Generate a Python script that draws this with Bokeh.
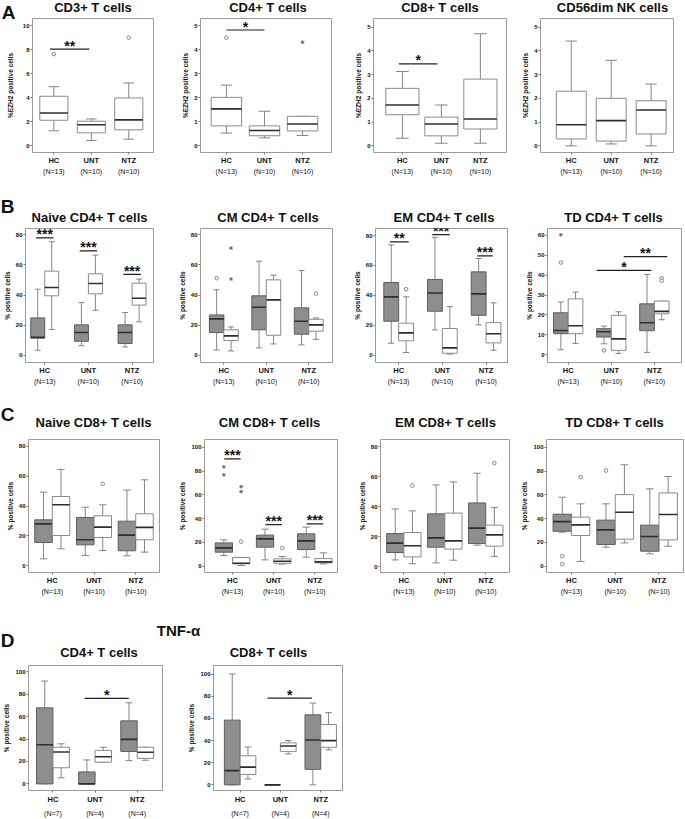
from bokeh.plotting import figure
from bokeh.models import LinearAxis, FixedTicker, Range1d
from bokeh.layouts import row, column
from bokeh.embed import file_html
from bokeh.resources import INLINE
from bokeh.core.properties import value

# ---------------- data ----------------
GROUPS = ["HC", "UNT", "NTZ"]
N_ABC = ["(N=13)", "(N=10)", "(N=10)"]
N_D = ["(N=7)", "(N=4)", "(N=4)"]
PANEL_LETTERS = ["A", "B", "C", "D"]
SECTION_D_TITLE = "TNF-\u03b1"
TITLES_A = ["CD3+ T cells", "CD4+ T cells", "CD8+ T cells", "CD56dim NK cells"]
TITLES_B = ["Naive CD4+ T cells", "CM CD4+ T cells", "EM CD4+ T cells", "TD CD4+ T cells"]
TITLES_C = ["Naive CD8+ T cells", "CM CD8+ T cells", "EM CD8+ T cells", "TD CD8+ T cells"]
TITLES_D = ["CD4+ T cells", "CD8+ T cells"]
# each box: (lower whisker, Q1, median, Q3, upper whisker) for HC, UNT, NTZ

# A: %EZH2 positive cells
EZH2_CD3 = [(1.25, 2.13, 2.74, 4.13, 4.93), (0.44, 1.08, 1.75, 2.05, 2.24), (0.55, 1.33, 2.16, 3.99, 5.24)]
EZH2_CD3_OUT = [("HC", "box", 7.65, "o"), ("NTZ", "box", 9.03, "o")]
EZH2_CD3_SIG = [(0.9, 1.95, 8.06, "**")]
EZH2_CD4 = [(0.53, 0.83, 1.54, 2.02, 2.53), (0.33, 0.42, 0.64, 0.83, 1.44), (0.43, 0.62, 0.91, 1.23, 1.23)]
EZH2_CD4_OUT = [("HC", "box", 4.51, "o"), ("NTZ", "box", 4.32, "*")]
EZH2_CD4_SIG = [(1.0, 2.0, 4.83, "*")]
EZH2_CD8 = [(0.32, 1.31, 1.72, 2.42, 3.13), (0.11, 0.42, 0.92, 1.21, 1.72), (0.11, 0.71, 1.13, 2.81, 4.72)]
EZH2_CD8_OUT = []
EZH2_CD8_SIG = [(0.91, 1.9, 3.45, "*")]
EZH2_NK = [(0.0, 0.29, 0.89, 2.30, 4.41), (0.08, 0.20, 1.06, 2.00, 3.60), (0.0, 0.50, 1.51, 1.90, 2.60)]
EZH2_NK_OUT = []
EZH2_NK_SIG = []

# B: CD4+ subsets (grey / white boxes)
NAIVE_CD4_G = [(3.3, 11.3, 12.0, 24.8, 43.9), (6.4, 9.3, 15.1, 20.2, 35.0), (5.5, 7.8, 15.1, 20.2, 28.4)]
NAIVE_CD4_W = [(17.1, 39.5, 45.0, 55.9, 75.4), (29.9, 40.8, 47.7, 54.1, 66.5), (22.2, 33.3, 37.9, 47.9, 50.6)]
NAIVE_CD4_OUT = []
NAIVE_CD4_SIG = [(0.8, 1.2, 78.0, "***"), (1.8, 2.2, 69.4, "***"), (2.8, 3.2, 53.7, "***")]
CM_CD4_G = [(3.5, 15.1, 24.2, 26.8, 43.5), (4.9, 16.9, 31.9, 39.5, 62.5), (6.9, 14.0, 22.6, 31.5, 56.3)]
CM_CD4_W = [(2.9, 9.8, 12.9, 16.9, 18.8), (7.5, 13.3, 36.8, 50.1, 53.2), (10.6, 16.0, 20.2, 23.9, 24.8)]
CM_CD4_OUT = [("HC", "grey", 51.2, "o"), ("HC", "white", 71.2, "*"), ("HC", "white", 50.6, "*"), ("NTZ", "white", 41.0, "o")]
CM_CD4_SIG = []
EM_CD4_G = [(8.0, 22.7, 39.0, 48.6, 73.7), (16.9, 29.4, 41.6, 50.6, 78.8), (20.3, 26.7, 41.0, 55.7, 64.6)]
EM_CD4_W = [(1.8, 9.6, 14.9, 21.4, 39.0), (0.7, 1.3, 4.9, 17.8, 32.5), (3.3, 8.2, 14.3, 21.8, 35.0)]
EM_CD4_OUT = [("HC", "white", 44.1, "o")]
EM_CD4_SIG = [(0.8, 1.23, 75.7, "**"), (1.77, 2.17, 80.6, "***"), (2.8, 3.15, 66.4, "***")]
TD_CD4_G = [(2.5, 10.6, 12.2, 21.1, 26.5), (5.5, 8.9, 11.6, 13.1, 14.4), (1.2, 12.1, 16.1, 25.6, 40.4)]
TD_CD4_W = [(5.7, 10.6, 14.6, 28.1, 31.5), (0.7, 2.2, 8.0, 19.8, 21.6), (17.6, 20.6, 21.8, 27.0, 27.0)]
TD_CD4_OUT = [("HC", "grey", 60.3, "*"), ("HC", "grey", 46.4, "o"), ("UNT", "grey", 2.2, "o"),
              ("NTZ", "white", 38.5, "o"), ("NTZ", "white", 37.2, "o")]
TD_CD4_SIG = [(1.66, 2.93, 42.4, "*"), (2.29, 3.3, 49.4, "**")]

# C: CD8+ subsets
NAIVE_CD8_G = [(4.5, 15.5, 28.0, 30.7, 49.3), (6.7, 13.9, 17.3, 32.3, 39.2), (6.5, 9.9, 20.4, 29.8, 50.7)]
NAIVE_CD8_W = [(11.2, 20.2, 40.8, 46.4, 64.6), (10.1, 18.8, 25.8, 33.4, 40.8), (9.0, 17.3, 25.6, 34.8, 57.6)]
NAIVE_CD8_OUT = [("UNT", "white", 54.9, "o")]
NAIVE_CD8_SIG = []
CM_CD8_G = [(9.0, 11.8, 15.4, 19.6, 22.1), (5.3, 16.0, 23.0, 26.1, 31.1), (7.6, 14.0, 21.3, 27.2, 32.8)]
CM_CD8_W = [(0.6, 2.0, 2.5, 7.3, 7.3), (1.7, 2.5, 4.2, 6.2, 8.1), (2.0, 2.8, 3.6, 6.4, 11.2)]
CM_CD8_OUT = [("HC", "grey", 83.5, "*"), ("HC", "grey", 76.8, "*"), ("HC", "white", 66.9, "*"),
              ("HC", "white", 62.7, "*"), ("HC", "white", 20.7, "o"), ("UNT", "white", 15.4, "o")]
CM_CD8_SIG = [(0.8, 1.2, 90.2, "***"), (1.8, 2.2, 35.0, "***"), (2.8, 3.2, 35.6, "***")]
EM_CD8_G = [(4.4, 9.3, 15.6, 22.0, 38.4), (2.4, 12.9, 19.1, 35.1, 54.4), (14.2, 15.3, 25.6, 42.4, 62.2)]
EM_CD8_W = [(1.8, 6.4, 13.8, 22.7, 37.1), (4.2, 11.6, 17.1, 35.6, 56.4), (6.7, 13.6, 21.1, 27.6, 39.3)]
EM_CD8_OUT = [("HC", "white", 54.0, "o"), ("NTZ", "white", 68.9, "o")]
EM_CD8_SIG = []
TD_CD8_G = [(28.6, 29.4, 37.5, 43.7, 58.0), (16.0, 18.2, 30.5, 38.7, 52.4), (10.4, 12.6, 24.9, 34.5, 65.0)]
TD_CD8_W = [(3.9, 25.8, 34.7, 41.2, 52.4), (19.6, 22.7, 45.4, 60.2, 85.2), (16.8, 22.1, 43.4, 61.6, 75.4)]
TD_CD8_OUT = [("HC", "grey", 8.4, "o"), ("HC", "grey", 1.7, "o"), ("HC", "white", 74.8, "o"), ("UNT", "grey", 80.4, "o")]
TD_CD8_SIG = []

# D: TNF-alpha
TNF_CD4_G = [(0.0, 0.0, 34.9, 67.9, 91.8), (0.0, 0.0, 0.0, 10.7, 21.4), (20.8, 29.0, 39.7, 56.3, 72.4)]
TNF_CD4_W = [(5.4, 14.4, 28.5, 32.7, 35.8), (19.2, 19.4, 24.2, 29.9, 32.7), (21.1, 22.8, 28.2, 32.7, 32.7)]
TNF_CD4_SIG = [(1.75, 2.8, 76.3, "*")]
TNF_CD8_G = [(0.0, 0.0, 12.8, 58.4, 100.0), (0.0, 0.0, 0.0, 0.0, 0.0), (0.0, 14.0, 40.5, 63.2, 73.8)]
TNF_CD8_W = [(5.4, 9.4, 16.0, 26.2, 34.2), (27.9, 30.2, 35.0, 37.9, 39.9), (31.6, 33.9, 39.9, 54.4, 65.2)]
TNF_CD8_SIG = [(1.68, 2.78, 78.3, "*")]

Y_EZH2_10 = [0, 2, 4, 6, 8, 10]
Y_EZH2_5 = [0, 1, 2, 3, 4, 5]
Y_80 = [0, 20, 40, 60, 80]
Y_60 = [0, 10, 20, 30, 40, 50, 60]
Y_100 = [0, 20, 40, 60, 80, 100]

# ---------------- style ----------------
FONT = "Liberation Sans"
TXT = "#111111"
FRAME = "#9a9a9a"
GREY = "#8e8e8e"
EDGE_G = "#5e5e5e"
EDGE_W = "#8a8a8a"
WHISK = "#858585"
MED = "#2e2e2e"
PAGE_W, PAGE_H = 685, 819


def draw_boxes(p, stats, offset, bw, cw, fill, edge):
    xs = [i + 1 + offset for i in range(len(stats))]
    lo = [s[0] for s in stats]
    q1 = [s[1] for s in stats]
    md = [s[2] for s in stats]
    q3 = [s[3] for s in stats]
    hi = [s[4] for s in stats]
    p.segment(x0=xs, y0=lo, x1=xs, y1=q1, line_color=WHISK, line_width=1)
    p.segment(x0=xs, y0=q3, x1=xs, y1=hi, line_color=WHISK, line_width=1)
    p.segment(x0=[x - cw / 2 for x in xs], y0=lo, x1=[x + cw / 2 for x in xs], y1=lo, line_color=WHISK, line_width=1)
    p.segment(x0=[x - cw / 2 for x in xs], y0=hi, x1=[x + cw / 2 for x in xs], y1=hi, line_color=WHISK, line_width=1)
    p.vbar(x=xs, width=bw, bottom=q1, top=q3, fill_color=fill, line_color=edge, line_width=1)
    p.segment(x0=[x - bw / 2 for x in xs], y0=md, x1=[x + bw / 2 for x in xs], y1=md, line_color=MED, line_width=1.6)


def panel(series, outliers, sigs, nlab, ylabel, yticks, g):
    p = figure(width=g["w"], height=g["h"], x_range=Range1d(*g["xr"]), y_range=Range1d(*g["yr"]),
               x_axis_type=None, y_axis_type=None, toolbar_location=None, output_backend="svg",
               min_border_left=g["bl"], min_border_right=g["br"], min_border_top=g["bt"],
               min_border_bottom=g["bb"], border_fill_color=None, background_fill_color="white",
               outline_line_color=FRAME, outline_line_width=1)

    ya = LinearAxis(ticker=FixedTicker(ticks=yticks), axis_label=ylabel)
    ya.axis_line_color = None
    ya.major_tick_line_color = "#777777"
    ya.major_tick_out = 2
    ya.major_tick_in = 0
    ya.minor_tick_line_color = None
    ya.major_label_standoff = 1
    ya.major_label_text_font = FONT
    ya.major_label_text_font_size = "6px"
    ya.major_label_text_font_style = "bold"
    ya.major_label_text_color = TXT
    ya.axis_label_text_font = FONT
    ya.axis_label_text_font_size = "6.5px"
    ya.axis_label_text_font_style = "bold"
    ya.axis_label_text_color = TXT
    ya.axis_label_standoff = g.get("ls", 2)
    p.add_layout(ya, "left")

    xa = LinearAxis(ticker=FixedTicker(ticks=[1, 2, 3]),
                    major_label_overrides={i + 1: GROUPS[i] for i in range(3)})
    xa.axis_line_color = None
    xa.major_tick_line_color = "#777777"
    xa.major_tick_out = 2
    xa.major_tick_in = 0
    xa.major_label_standoff = g.get("hs", 1)
    xa.major_label_text_font = FONT
    xa.major_label_text_font_size = "7.5px"
    xa.major_label_text_font_style = "bold"
    xa.major_label_text_color = TXT
    p.add_layout(xa, "below")

    na = LinearAxis(ticker=FixedTicker(ticks=[1, 2, 3]),
                    major_label_overrides={i + 1: nlab[i] for i in range(3)})
    na.axis_line_color = None
    na.major_tick_line_color = None
    na.major_tick_out = 0
    na.major_tick_in = 0
    na.major_label_standoff = g.get("ns", 0)
    na.major_label_text_font = FONT
    na.major_label_text_font_size = "7px"
    na.major_label_text_color = TXT
    p.add_layout(na, "below")

    bw = g["bw"]
    offsets = {}
    if len(series) == 1:
        draw_boxes(p, series[0], 0.0, bw, bw * 0.38, "white", EDGE_W)
        offsets["box"] = 0.0
    else:
        draw_boxes(p, series[0], -bw / 2, bw, bw * 0.42, GREY, EDGE_G)
        draw_boxes(p, series[1], bw / 2, bw, bw * 0.42, "white", EDGE_W)
        offsets["grey"] = -bw / 2
        offsets["white"] = bw / 2

    circ_x = [GROUPS.index(o[0]) + 1 + offsets[o[1]] for o in outliers if o[3] == "o"]
    circ_y = [o[2] for o in outliers if o[3] == "o"]
    star_x = [GROUPS.index(o[0]) + 1 + offsets[o[1]] for o in outliers if o[3] == "*"]
    star_y = [o[2] for o in outliers if o[3] == "*"]
    if circ_x:
        p.scatter(x=circ_x, y=circ_y, marker="circle", size=3.6, fill_color="white",
                  line_color="#7a7a7a", line_width=0.9)
    if star_x:
        p.scatter(x=star_x, y=star_y, marker="asterisk", size=3.6, line_color="#6a6a6a", line_width=1)

    if sigs:
        fh = g["h"] - g["bt"] - g["bb"]
        dy = (g["yr"][1] - g["yr"][0]) / fh
        p.segment(x0=[s[0] for s in sigs], y0=[s[2] for s in sigs], x1=[s[1] for s in sigs],
                  y1=[s[2] for s in sigs], line_color="#222222", line_width=1.2)
        p.text(x=[(s[0] + s[1]) / 2 for s in sigs], y=[s[2] + 3.5 * dy for s in sigs],
               text=[s[3] for s in sigs], text_align="center", text_baseline="alphabetic",
               text_font=value(FONT), text_font_style="bold", text_font_size="14px", text_color=TXT)
    return p


EZ = "%EZH2 positive cells"
PC = "% positive cells"

# geometry (sizes / borders / ranges) per panel
gA1 = dict(w=175, h=190, bl=32, br=22, bt=18, bb=38, xr=(0.43, 3.66), yr=(-0.56, 10.62), bw=0.75, ls=6)
gA2 = dict(w=175, h=190, bl=25, br=19, bt=18, bb=38, xr=(0.32, 3.76), yr=(-0.28, 5.31), bw=0.8)
gA3 = dict(w=165, h=190, bl=23, br=9, bt=18, bb=38, xr=(0.26, 3.67), yr=(-0.28, 5.36), bw=0.85)
gA4 = dict(w=170, h=190, bl=25, br=12, bt=18, bb=38, xr=(0.23, 3.56), yr=(-0.28, 5.36), bw=0.75)

gB1 = dict(w=175, h=210, bl=21, br=22, bt=38, bb=38, xr=(0.56, 3.49), yr=(-4.8, 84.2), bw=0.32)
gB2 = dict(w=175, h=210, bl=25, br=18, bt=38, bb=38, xr=(0.45, 3.56), yr=(-4.8, 84.2), bw=0.34)
gB3 = dict(w=172, h=210, bl=23, br=15, bt=38, bb=38, xr=(0.47, 3.49), yr=(-4.9, 84.7), bw=0.34)
gB4 = dict(w=163, h=210, bl=23, br=4, bt=38, bb=38, xr=(0.52, 3.63), yr=(-3.9, 63.5), bw=0.34)

gC1 = dict(w=176, h=210, bl=28, br=17, bt=39, bb=38, xr=(0.43, 3.57), yr=(-4.7, 84.7), bw=0.42)
gC2 = dict(w=179, h=210, bl=24, br=18, bt=39, bb=38, xr=(0.32, 3.55), yr=(-5.3, 106.5), bw=0.42)
gC3 = dict(w=163, h=210, bl=23, br=9, bt=39, bb=38, xr=(0.43, 3.58), yr=(-4.0, 84.7), bw=0.42)
gC4 = dict(w=167, h=210, bl=24, br=2, bt=39, bb=38, xr=(0.43, 3.56), yr=(-5.3, 106.5), bw=0.42)

gD1 = dict(w=185, h=209, bl=27, br=23, bt=55, bb=22, xr=(0.42, 3.6), yr=(-5.9, 105.7), bw=0.39, hs=2, ns=3)
gD2 = dict(w=175, h=209, bl=21, br=18, bt=55, bb=22, xr=(0.34, 3.54), yr=(-5.1, 107.7), bw=0.39, hs=2, ns=3)

a1 = panel([EZH2_CD3], EZH2_CD3_OUT, EZH2_CD3_SIG, N_ABC, EZ, Y_EZH2_10, gA1)
a2 = panel([EZH2_CD4], EZH2_CD4_OUT, EZH2_CD4_SIG, N_ABC, EZ, Y_EZH2_5, gA2)
a3 = panel([EZH2_CD8], EZH2_CD8_OUT, EZH2_CD8_SIG, N_ABC, EZ, Y_EZH2_5, gA3)
a4 = panel([EZH2_NK], EZH2_NK_OUT, EZH2_NK_SIG, N_ABC, EZ, Y_EZH2_5, gA4)

b1 = panel([NAIVE_CD4_G, NAIVE_CD4_W], NAIVE_CD4_OUT, NAIVE_CD4_SIG, N_ABC, PC, Y_80, gB1)
b2 = panel([CM_CD4_G, CM_CD4_W], CM_CD4_OUT, CM_CD4_SIG, N_ABC, PC, Y_80, gB2)
b3 = panel([EM_CD4_G, EM_CD4_W], EM_CD4_OUT, EM_CD4_SIG, N_ABC, PC, Y_80, gB3)
b4 = panel([TD_CD4_G, TD_CD4_W], TD_CD4_OUT, TD_CD4_SIG, N_ABC, PC, Y_60, gB4)

c1 = panel([NAIVE_CD8_G, NAIVE_CD8_W], NAIVE_CD8_OUT, NAIVE_CD8_SIG, N_ABC, PC, Y_80, gC1)
c2 = panel([CM_CD8_G, CM_CD8_W], CM_CD8_OUT, CM_CD8_SIG, N_ABC, PC, Y_100, gC2)
c3 = panel([EM_CD8_G, EM_CD8_W], EM_CD8_OUT, EM_CD8_SIG, N_ABC, PC, Y_80, gC3)
c4 = panel([TD_CD8_G, TD_CD8_W], TD_CD8_OUT, TD_CD8_SIG, N_ABC, PC, Y_100, gC4)

d1 = panel([TNF_CD4_G, TNF_CD4_W], [], TNF_CD4_SIG, N_D, PC, Y_100, gD1)
d2 = panel([TNF_CD8_G, TNF_CD8_W], [], TNF_CD8_SIG, N_D, PC, Y_100, gD2)

# full-page layer underneath the panels for headings and panel titles (page pixel coordinates)
overlay = figure(width=PAGE_W, height=PAGE_H, x_range=Range1d(0, PAGE_W), y_range=Range1d(PAGE_H, 0),
                 x_axis_type=None, y_axis_type=None, toolbar_location=None, output_backend="svg",
                 min_border=0, outline_line_color=None, background_fill_color=None,
                 border_fill_color=None, margin=(0, 0, -PAGE_H, 0))
overlay.text(x=[8, 7, 7, 7], y=[12, 206, 414, 640], text=PANEL_LETTERS, text_align="center",
             text_baseline="middle", text_font=value(FONT), text_font_style="bold",
             text_font_size="19px", text_color=TXT)
overlay.text(x=[178], y=[630], text=[SECTION_D_TITLE], text_align="center", text_baseline="middle",
             text_font=value(FONT), text_font_style="bold", text_font_size="15px", text_color=TXT)
title_text = TITLES_A + TITLES_B + TITLES_C + TITLES_D
title_x = [92.5, 267.5, 439.5, 612, 89, 267.5, 443.5, 613, 93, 269, 445, 614, 98.5, 268]
title_y = [7] * 4 + [216.5] * 4 + [422] * 4 + [652] * 2
overlay.text(x=title_x, y=title_y, text=title_text, text_align="center", text_baseline="middle",
             text_font=value(FONT), text_font_style="bold", text_font_size="13px", text_color=TXT)

layout = column(overlay, row(a1, a2, a3, a4), row(b1, b2, b3, b4), row(c1, c2, c3, c4), row(d1, d2))

open("out.html", "w").write(file_html(layout, INLINE))
